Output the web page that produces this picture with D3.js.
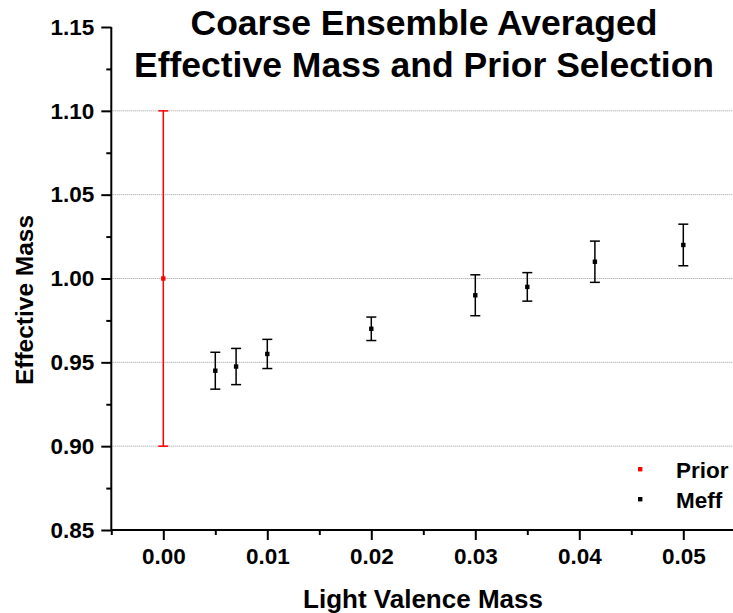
<!DOCTYPE html>
<html>
<head>
<meta charset="utf-8">
<script src="https://cdn.jsdelivr.net/npm/d3@7"></script>
<style>
  body { margin: 0; background: #fff; }
  svg text { font-family: "Liberation Sans", Arial, sans-serif; font-weight: bold; fill: #000; }
</style>
</head>
<body>
<div id="chart"></div>
<script>
// data
const priorX = [0.0];
const priorY = [1.00];
const priorErr = [0.10];

const meffX = [0.005, 0.007, 0.010, 0.020, 0.030, 0.035, 0.0415, 0.050];
const meffY = [0.945, 0.9475, 0.955, 0.970, 0.990, 0.995, 1.010, 1.020];
const meffErr = [0.011, 0.0108, 0.0087, 0.007, 0.0122, 0.0085, 0.0123, 0.0124];

const xMajor = [0.00, 0.01, 0.02, 0.03, 0.04, 0.05];
const xMinor = [-0.005, 0.005, 0.015, 0.025, 0.035, 0.045];
const yMajor = [0.85, 0.90, 0.95, 1.00, 1.05, 1.10, 1.15];
const yMinor = [0.875, 0.925, 0.975, 1.025, 1.075, 1.125];
const gridY = [0.90, 0.95, 1.00, 1.05, 1.10];

const width = 733, height = 613;

const svg = d3.select("#chart").append("svg")
  .attr("width", width)
  .attr("height", height);

// scales
const x = d3.scaleLinear().domain([-0.005, 0.055]).range([111.3, 735.3]);
const y = d3.scaleLinear().domain([0.85, 1.15]).range([530, 27]);

// dotted grid
svg.append("g").selectAll("line")
  .data(gridY)
  .enter().append("line")
  .attr("x1", x(-0.005)).attr("x2", width)
  .attr("y1", d => y(d)).attr("y2", d => y(d))
  .attr("stroke", "#9a9a9a")
  .attr("stroke-width", 1)
  .attr("stroke-dasharray", "1,1");

// minor ticks
const xMinorAxis = d3.axisBottom(x).tickValues(xMinor).tickSize(5).tickFormat("");
const yMinorAxis = d3.axisLeft(y).tickValues(yMinor).tickSize(5).tickFormat("");

svg.append("g").attr("transform", "translate(0,530)").call(xMinorAxis)
  .call(g => g.select(".domain").remove());
svg.append("g").attr("transform", "translate(111.3,0)").call(yMinorAxis)
  .call(g => g.select(".domain").remove());

// major axes
const xAxis = d3.axisBottom(x).tickValues(xMajor).tickSize(10).tickPadding(8)
  .tickFormat(d3.format(".2f"));
const yAxis = d3.axisLeft(y).tickValues(yMajor).tickSize(10).tickPadding(7)
  .tickFormat(d3.format(".2f"));

const gx = svg.append("g").attr("transform", "translate(0,530)").call(xAxis);
const gy = svg.append("g").attr("transform", "translate(111.3,0)").call(yAxis);

svg.selectAll(".tick line").attr("stroke", "#000").attr("stroke-width", 2);
svg.selectAll(".domain").attr("stroke", "#000").attr("stroke-width", 2);
gx.select(".domain").attr("d", `M${x(-0.005)},0H${width}`);
gy.select(".domain").attr("d", `M0,${y(0.85)}V${y(1.15)}`);

gx.selectAll(".tick text").style("font-size", "22.5px").attr("font-family", null);
gy.selectAll(".tick text").style("font-size", "22.5px").attr("font-family", null);

// error bars + markers
function drawSeries(xs, ys, es, color) {
  const pts = xs.map((v, i) => ({ x: v, y: ys[i], e: es[i] }));
  const g = svg.append("g");
  const capW = 5;
  g.selectAll(".bar").data(pts).enter().append("line")
    .attr("x1", d => x(d.x)).attr("x2", d => x(d.x))
    .attr("y1", d => y(d.y + d.e)).attr("y2", d => y(d.y - d.e))
    .attr("stroke", color).attr("stroke-width", 1.5);
  g.selectAll(".capTop").data(pts).enter().append("line")
    .attr("x1", d => x(d.x) - capW).attr("x2", d => x(d.x) + capW)
    .attr("y1", d => y(d.y + d.e)).attr("y2", d => y(d.y + d.e))
    .attr("stroke", color).attr("stroke-width", 1.5);
  g.selectAll(".capBot").data(pts).enter().append("line")
    .attr("x1", d => x(d.x) - capW).attr("x2", d => x(d.x) + capW)
    .attr("y1", d => y(d.y - d.e)).attr("y2", d => y(d.y - d.e))
    .attr("stroke", color).attr("stroke-width", 1.5);
  g.selectAll("rect").data(pts).enter().append("rect")
    .attr("x", d => x(d.x) - 2.2).attr("y", d => y(d.y) - 2.2)
    .attr("width", 4.4).attr("height", 4.4)
    .attr("fill", color);
}

drawSeries(priorX, priorY, priorErr, "#ff0000");
drawSeries(meffX, meffY, meffErr, "#000000");

// title
const title = svg.append("text")
  .attr("text-anchor", "middle")
  .style("font-size", "35.5px");
title.append("tspan").attr("x", 424).attr("y", 35).text("Coarse Ensemble Averaged");
title.append("tspan").attr("x", 424).attr("y", 77).text("Effective Mass and Prior Selection");

// axis titles
svg.append("text")
  .attr("x", 423).attr("y", 608)
  .attr("text-anchor", "middle")
  .style("font-size", "26px")
  .text("Light Valence Mass");

svg.append("text")
  .attr("transform", "translate(33,300) rotate(-90)")
  .attr("text-anchor", "middle")
  .style("font-size", "24.5px")
  .text("Effective Mass");

// legend
const legend = svg.append("g");
const legendItems = [["Prior", "#ff0000"], ["Meff", "#000000"]];
legendItems.forEach((item, i) => {
  legend.append("rect")
    .attr("x", 638).attr("y", 467 + i * 30)
    .attr("width", 4.4).attr("height", 4.4)
    .attr("fill", item[1]);
  legend.append("text")
    .attr("x", 676).attr("y", 478 + i * 30)
    .style("font-size", "22.5px")
    .text(item[0]);
});
</script>
</body>
</html>
